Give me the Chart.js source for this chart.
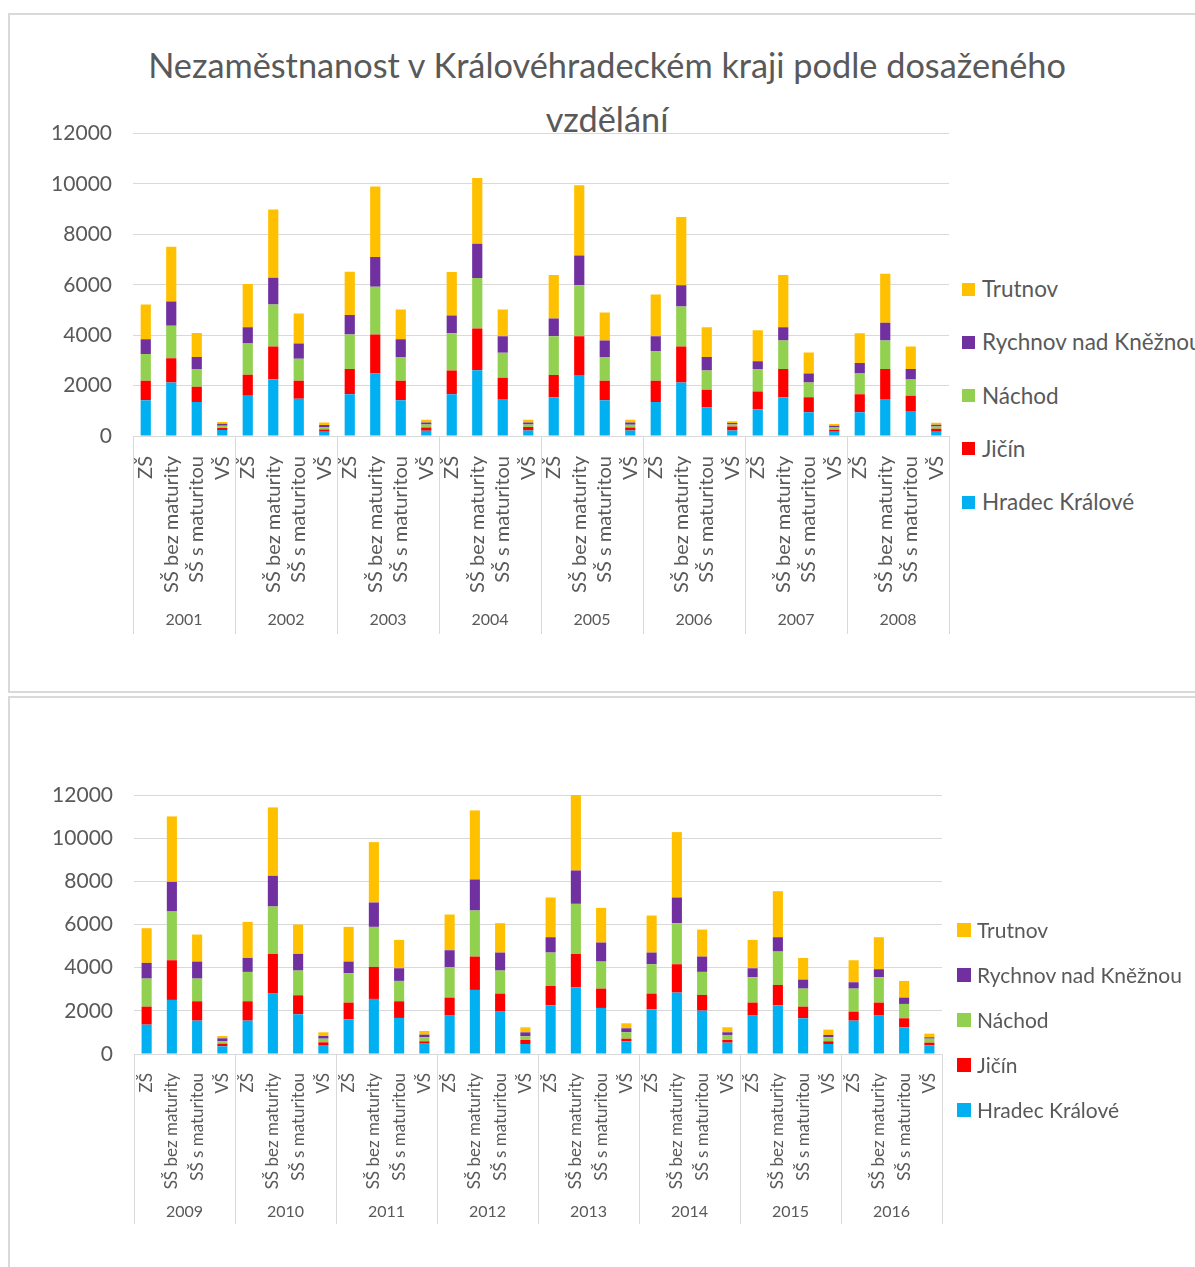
<!DOCTYPE html>
<html>
<head>
<meta charset="utf-8">
<script src="https://cdn.jsdelivr.net/npm/chart.js@4.4.1/dist/chart.umd.min.js"></script>
<style>
  body { margin: 0; width: 1195px; height: 1267px; overflow: hidden; background: #fff; font-family: Lato, "Open Sans", sans-serif; color: #595959; position: relative; }
  .panel { position: absolute; left: 8px; width: 1220px; border: 2px solid #d9d9d9; box-sizing: border-box; }
  .title { position: absolute; left: 0; width: 1214px; text-align: center; font-size: 34.3px; line-height: 54px; }
  canvas { position: absolute; left: 0; }
  .legend { position: absolute; }
  .item { position: absolute; white-space: nowrap; }
  .item span.box { position: absolute; left: 0; }
</style>
</head>
<body>
<div class="panel" style="top:13px;height:680px"></div>
<div class="panel" style="top:696px;height:600px"></div>
<div class="title" style="top:38px">Nezaměstnanost v Královéhradeckém kraji podle dosaženého<br>vzdělání</div>
<canvas id="top" width="962" height="560" style="top:100px"></canvas>
<canvas id="bottom" width="962" height="500" style="top:760px"></canvas>
<div id="leg1" class="legend"></div>
<div id="leg2" class="legend"></div>
<script>
// categories
const levels = ['ZŠ', 'SŠ bez maturity', 'SŠ s maturitou', 'VŠ'];
const yearsTop = ['2001', '2002', '2003', '2004', '2005', '2006', '2007', '2008'];
const yearsBottom = ['2009', '2010', '2011', '2012', '2013', '2014', '2015', '2016'];
const yTicks = [0, 2000, 4000, 6000, 8000, 10000, 12000];

const seriesNames = ['Hradec Králové', 'Jičín', 'Náchod', 'Rychnov nad Kněžnou', 'Trutnov'];
const seriesColors = ['#00B0F0', '#FF0000', '#92D050', '#7030A0', '#FFC000'];

// 2001-2008, per year: ZŠ, SŠ bez maturity, SŠ s maturitou, VŠ
const hradecTop = [1416, 2124, 1350, 236, 1600, 2255, 1481, 170, 1652, 2478, 1416, 210, 1652, 2609, 1468, 223,
                   1534, 2425, 1416, 223, 1350, 2124, 1127, 223, 1062, 1534, 944, 170, 944, 1468, 996, 170];
const jicinTop = [774, 957, 603, 80, 826, 1298, 709, 92, 1009, 1547, 774, 131, 944, 1652, 839, 131,
                  891, 1534, 774, 118, 840, 1429, 708, 157, 708, 1127, 590, 79, 708, 1193, 603, 118];
const nachodTop = [1061, 1298, 708, 90, 1246, 1665, 878, 92, 1364, 1901, 943, 118, 1481, 2006, 997, 105,
                   1534, 2019, 943, 105, 1179, 1586, 761, 79, 891, 1128, 590, 92, 826, 1128, 643, 92];
const rychnovTop = [590, 957, 472, 80, 642, 1062, 603, 79, 773, 1180, 708, 79, 708, 1363, 655, 79,
                    708, 1180, 656, 92, 590, 839, 537, 52, 302, 524, 354, 65, 419, 708, 419, 66];
const trutnovTop = [1377, 2176, 957, 66, 1718, 2713, 1193, 105, 1718, 2792, 1180, 104, 1718, 2609, 1062, 104,
                    1717, 2792, 1114, 104, 1652, 2714, 1180, 79, 1232, 2071, 839, 66, 1180, 1940, 892, 78];

// 2009-2016
const hradecBottom = [1360, 2505, 1546, 356, 1546, 2798, 1840, 417, 1608, 2551, 1670, 479, 1778, 2968, 1963, 464,
                      2257, 3092, 2133, 587, 2072, 2845, 2010, 526, 1778, 2257, 1654, 464, 1546, 1778, 1237, 402];
const jicinBottom = [835, 1839, 897, 123, 897, 1840, 881, 124, 773, 1484, 773, 108, 835, 1546, 835, 185,
                     897, 1546, 897, 124, 727, 1314, 727, 124, 603, 943, 541, 124, 417, 603, 417, 124];
const nachodBottom = [1299, 2257, 1051, 108, 1360, 2195, 1144, 170, 1360, 1855, 943, 186, 1407, 2134, 1067, 170,
                      1546, 2319, 1252, 294, 1360, 1902, 1067, 232, 1175, 1546, 835, 186, 1067, 1175, 665, 186];
const rychnovBottom = [727, 1376, 788, 140, 649, 1423, 773, 124, 541, 1129, 587, 124, 788, 1438, 835, 185,
                       711, 1546, 882, 186, 541, 1190, 711, 124, 417, 665, 417, 108, 294, 371, 294, 62];
const trutnovBottom = [1607, 3031, 1253, 108, 1670, 3169, 1360, 170, 1608, 2798, 1314, 170, 1654, 3200, 1360, 232,
                       1840, 3497, 1607, 232, 1716, 3030, 1252, 232, 1314, 2133, 1005, 247, 1020, 1484, 773, 170];

const grey = '#595959';
const lineGrey = '#d9d9d9';

// vertical separators and year labels under the level labels
const groupAxis = {
    id: 'groupAxis',
    afterDraw(chart, args, opts) {
        const x = chart.scales.x;
        const area = chart.chartArea;
        const ctx = chart.ctx;
        const step = (area.right - area.left) / x.ticks.length;
        ctx.save();
        ctx.strokeStyle = lineGrey;
        ctx.lineWidth = 1;
        for (let g = 0; g <= opts.years.length; g++) {
            let px = Math.round(area.left + g * levels.length * step) + 0.5;
            ctx.beginPath();
            ctx.moveTo(px, area.bottom);
            ctx.lineTo(px, area.bottom + opts.lineLen);
            ctx.stroke();
        }
        ctx.fillStyle = grey;
        ctx.font = '16px Lato';
        ctx.textAlign = 'center';
        ctx.textBaseline = 'middle';
        opts.years.forEach((y, g) => {
            let cx = (x.getPixelForValue(g * 4) + x.getPixelForValue(g * 4 + 3)) / 2;
            ctx.fillText(y, cx, area.bottom + opts.labelOff);
        });
        ctx.restore();
    }
};

function makeChart(id, years, series, cfg) {
    let labels = [];
    years.forEach(() => levels.forEach(l => labels.push(l)));
    let datasets = series.map((d, i) => ({
        label: seriesNames[i],
        data: d,
        backgroundColor: seriesColors[i],
        borderWidth: 0,
        barPercentage: 0.4,
        categoryPercentage: 1.0
    }));
    return new Chart(document.getElementById(id), {
        type: 'bar',
        data: { labels: labels, datasets: datasets },
        plugins: [groupAxis],
        options: {
            responsive: false,
            animation: false,
            devicePixelRatio: 1,
            layout: { padding: { top: cfg.top, right: cfg.right, left: 0, bottom: 0 } },
            plugins: {
                legend: { display: false },
                tooltip: { enabled: false },
                groupAxis: { years: years, lineLen: cfg.lineLen, labelOff: cfg.labelOff }
            },
            scales: {
                x: {
                    stacked: true,
                    grid: { display: false },
                    border: { display: true, color: lineGrey },
                    ticks: {
                        autoSkip: false, minRotation: 90, maxRotation: 90,
                        color: grey, padding: cfg.tickPad,
                        font: { family: 'Lato', size: cfg.labelSize }
                    },
                    afterFit: s => { s.height = cfg.xHeight; s.paddingLeft = 0; s.paddingRight = 0; }
                },
                y: {
                    stacked: true,
                    min: 0, max: 12000,
                    afterBuildTicks: s => { s.ticks = yTicks.map(v => ({ value: v })); },
                    grid: { color: lineGrey, lineWidth: 1, drawTicks: false },
                    border: { display: false },
                    ticks: { color: grey, padding: 21, font: { family: 'Lato', size: 21 }, callback: v => String(v) },
                    afterFit: s => { s.width = cfg.yWidth; }
                }
            }
        }
    });
}

makeChart('top', yearsTop, [hradecTop, jicinTop, nachodTop, rychnovTop, trutnovTop],
    { top: 31, right: 13, xHeight: 224, yWidth: 133, tickPad: 12, labelSize: 20, lineLen: 198, labelOff: 184 });
makeChart('bottom', yearsBottom, [hradecBottom, jicinBottom, nachodBottom, rychnovBottom, trutnovBottom],
    { top: 35, right: 20, xHeight: 206, yWidth: 134, tickPad: 11, labelSize: 17, lineLen: 170, labelOff: 158 });

// legends (Trutnov on top, as in the stack)
function makeLegend(id, firstY, gap, boxLeft, textLeft, box, size) {
    let el = document.getElementById(id);
    for (let i = seriesNames.length - 1, k = 0; i >= 0; i--, k++) {
        let cy = firstY + k * gap;
        let item = document.createElement('div');
        item.className = 'item';
        item.style.left = boxLeft + 'px';
        item.style.top = (cy - 20) + 'px';
        item.style.height = '40px';
        item.style.lineHeight = '40px';
        item.style.fontSize = size + 'px';
        item.innerHTML = '<span class="box" style="top:' + (20 - box / 2) + 'px;width:' + box + 'px;height:' + box +
            'px;background:' + seriesColors[i] + '"></span><span style="margin-left:' + (textLeft - boxLeft) + 'px">' +
            seriesNames[i] + '</span>';
        el.appendChild(item);
    }
}
makeLegend('leg1', 289, 53.3, 962, 982, 13, 22.5);
makeLegend('leg2', 930, 45, 957, 977, 14, 21);
</script>
</body>
</html>
